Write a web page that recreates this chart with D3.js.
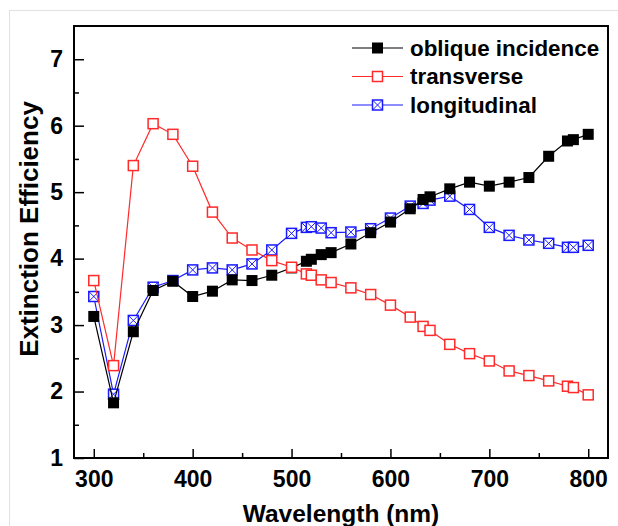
<!DOCTYPE html>
<html>
<head>
    <meta charset="utf-8">
    <script src="https://d3js.org/d3.v7.min.js"></script>
    <style>
        body { margin: 0; background: #fff; }
        text { font-family: "Liberation Sans", Arial, sans-serif; font-weight: bold; }
    </style>
</head>
<body>
    <div id="chart"></div>
    <script>
        // wavelengths (nm) shared by the three series
        var wavelength = [300, 320, 340, 360, 380, 400, 420, 440, 460, 480, 500, 515, 520, 530, 540,
                          560, 580, 600, 620, 633, 640, 660, 680, 700, 720, 740, 760, 779, 785, 800];

        var oblique = [3.13, 1.83, 2.90, 3.52, 3.66, 3.43, 3.51, 3.68, 3.67, 3.75, 3.86, 3.96, 3.99, 4.06, 4.09,
                       4.22, 4.39, 4.55, 4.75, 4.89, 4.93, 5.05, 5.15, 5.09, 5.15, 5.22, 5.54, 5.77, 5.79, 5.87];

        var transverse = [3.67, 2.39, 5.40, 6.03, 5.87, 5.39, 4.70, 4.31, 4.13, 3.97, 3.87, 3.77, 3.75, 3.68, 3.64,
                          3.56, 3.46, 3.30, 3.12, 2.98, 2.92, 2.71, 2.57, 2.46, 2.31, 2.24, 2.16, 2.08, 2.06, 1.95];

        var longitudinal = [3.43, 1.96, 3.07, 3.57, 3.67, 3.83, 3.86, 3.83, 3.92, 4.13, 4.38, 4.47, 4.48, 4.46, 4.39,
                            4.40, 4.45, 4.61, 4.79, 4.83, 4.88, 4.94, 4.74, 4.47, 4.35, 4.28, 4.23, 4.17, 4.17, 4.20];

        var xTicks = [300, 400, 500, 600, 700, 800];
        var yTicks = [1, 2, 3, 4, 5, 6, 7];

        var seriesNames = ["oblique incidence", "transverse", "longitudinal"];

        const W = 618, H = 526;
        const margin = { top: 26, right: 10, bottom: 68, left: 74 },
              width = W - margin.left - margin.right,
              height = H - margin.top - margin.bottom;

        var root = d3.select("#chart")
            .append("svg")
            .attr("width", W)
            .attr("height", H);

        // faint outer frame
        root.append("rect")
            .attr("x", 9.5).attr("y", 10.5)
            .attr("width", 700).attr("height", 600)
            .attr("fill", "none")
            .attr("stroke", "#e2e2e2");

        var svg = root.append("g")
            .attr("transform", `translate(${margin.left},${margin.top})`);

        const x = d3.scaleLinear().domain([280, 820]).range([0, width]);
        const y = d3.scaleLinear().domain([1, 7.5]).range([height, 0]);

        // minor ticks
        var xMinor = xTicks.map(d => d + 50).filter(d => d < 820);
        var yMinor = yTicks.map(d => d + 0.5).filter(d => d < 7.5);

        svg.append("g")
            .attr("transform", `translate(0,${height})`)
            .call(d3.axisBottom(x).tickValues(xMinor).tickSize(-5).tickFormat(""))
            .call(g => g.select(".domain").remove())
            .selectAll("line").attr("stroke-width", 1.5);
        svg.append("g")
            .call(d3.axisLeft(y).tickValues(yMinor).tickSize(-5).tickFormat(""))
            .call(g => g.select(".domain").remove())
            .selectAll("line").attr("stroke-width", 1.5);

        // major ticks + labels
        var xAxis = svg.append("g")
            .attr("transform", `translate(0,${height})`)
            .call(d3.axisBottom(x).tickValues(xTicks).tickSize(-9).tickPadding(13).tickSizeOuter(0));
        xAxis.select(".domain").remove();
        xAxis.selectAll("line").attr("stroke-width", 1.5);
        xAxis.selectAll("text").style("font-size", "23px").attr("fill", "#000");

        var yAxis = svg.append("g")
            .call(d3.axisLeft(y).tickValues(yTicks).tickFormat(d3.format("d"))
                .tickSize(-10).tickPadding(11).tickSizeOuter(0));
        yAxis.select(".domain").remove();
        yAxis.selectAll("line").attr("stroke-width", 1.5);
        yAxis.selectAll("text").style("font-size", "23px").attr("fill", "#000");

        // frame
        svg.append("rect")
            .attr("width", width).attr("height", height)
            .attr("fill", "none")
            .attr("stroke", "#000")
            .attr("stroke-width", 2);

        var line = d3.line()
            .x(d => x(d[0]))
            .y(d => y(d[1]));

        function drawMarker(g, type, color) {
            var s = 10;
            if (type === "filled") {
                g.append("rect").attr("x", -s / 2 - 0.5).attr("y", -s / 2 - 0.5)
                    .attr("width", s + 1).attr("height", s + 1).attr("fill", color);
            } else {
                g.append("rect").attr("x", -s / 2).attr("y", -s / 2)
                    .attr("width", s).attr("height", s)
                    .attr("fill", "#fff").attr("stroke", color).attr("stroke-width", 1.5);
                if (type === "cross") {
                    g.append("path")
                        .attr("d", `M${-s / 2},${-s / 2}L${s / 2},${s / 2}M${s / 2},${-s / 2}L${-s / 2},${s / 2}`)
                        .attr("stroke", color).attr("stroke-width", 1);
                }
            }
        }

        var series = [
            { name: seriesNames[2], values: longitudinal, color: "#1a1aff", marker: "cross" },
            { name: seriesNames[0], values: oblique, color: "#000", marker: "filled" },
            { name: seriesNames[1], values: transverse, color: "#ff2a2a", marker: "open" }
        ];

        series.forEach(function (s) {
            var pts = wavelength.map((w, i) => [w, s.values[i]]);
            svg.append("path")
                .datum(pts)
                .attr("fill", "none")
                .attr("stroke", s.color)
                .attr("stroke-width", 1.2)
                .attr("d", line);
            svg.append("g")
                .selectAll("g")
                .data(pts)
                .enter()
                .append("g")
                .attr("transform", d => `translate(${x(d[0])},${y(d[1])})`)
                .each(function () { drawMarker(d3.select(this), s.marker, s.color); });
        });

        // legend
        var legendItems = [
            { name: seriesNames[0], color: "#000", marker: "filled" },
            { name: seriesNames[1], color: "#ff2a2a", marker: "open" },
            { name: seriesNames[2], color: "#1a1aff", marker: "cross" }
        ];
        var legend = svg.append("g").attr("transform", "translate(278,22)");
        legendItems.forEach(function (d, i) {
            var row = legend.append("g").attr("transform", `translate(0,${i * 28.5})`);
            row.append("line").attr("x1", 0).attr("x2", 51).attr("y1", 0).attr("y2", 0)
                .attr("stroke", d.color).attr("stroke-width", 1.2);
            drawMarker(row.append("g").attr("transform", "translate(25.5,0)"), d.marker, d.color);
            row.append("text").attr("x", 58).attr("y", 0).attr("dy", "0.35em")
                .style("font-size", "22.4px").text(d.name);
        });

        // axis titles
        svg.append("text")
            .attr("x", width / 2)
            .attr("y", height + 64)
            .attr("text-anchor", "middle")
            .style("font-size", "24.5px")
            .text("Wavelength (nm)");

        svg.append("text")
            .attr("transform", "rotate(-90)")
            .attr("x", -(height / 2) + 13)
            .attr("y", -36)
            .attr("text-anchor", "middle")
            .style("font-size", "26px")
            .text("Extinction Efficiency");
    </script>
</body>
</html>
